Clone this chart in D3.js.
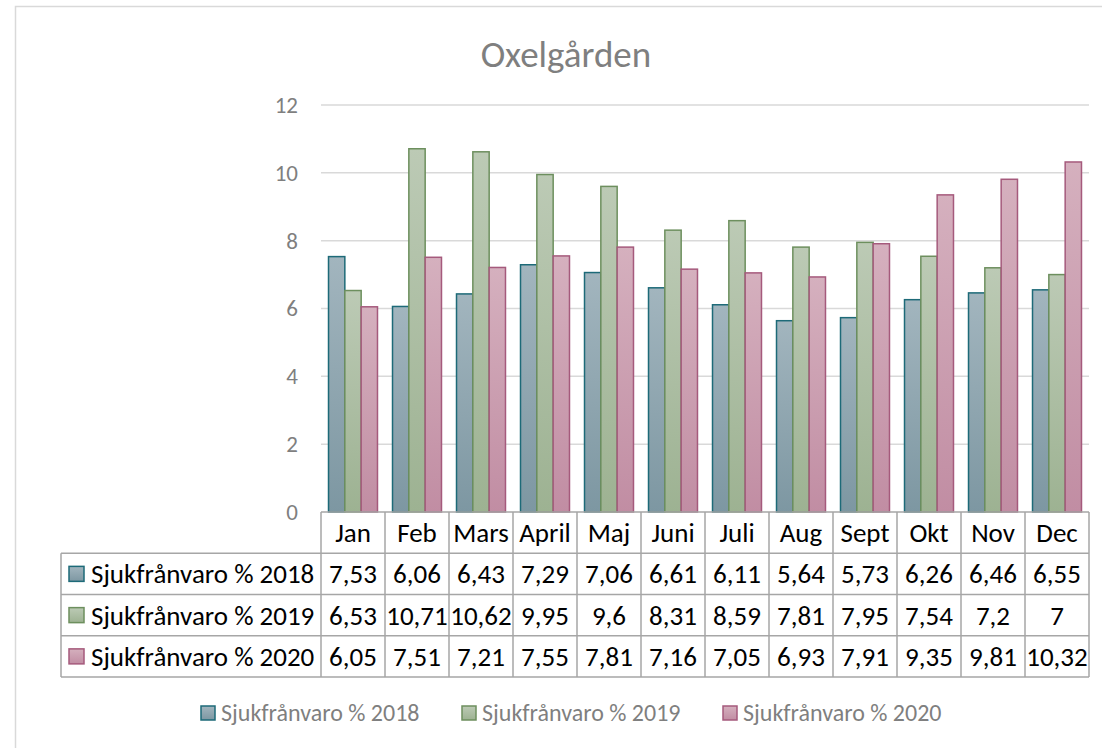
<!DOCTYPE html>
<html>
<head>
<meta charset="utf-8">
<script src="https://cdn.jsdelivr.net/npm/d3@7"></script>
<style>
  body { margin: 0; background: #fff; }
  svg { display: block; }
</style>
</head>
<body>
<svg id="chart" width="1102" height="748"></svg>
<script>
const title = 'Oxelgården'
const months = ['Jan', 'Feb', 'Mars', 'April', 'Maj', 'Juni', 'Juli', 'Aug', 'Sept', 'Okt', 'Nov', 'Dec']
const seriesNames = ['Sjukfrånvaro % 2018', 'Sjukfrånvaro % 2019', 'Sjukfrånvaro % 2020']
const values2018 = [7.53, 6.06, 6.43, 7.29, 7.06, 6.61, 6.11, 5.64, 5.73, 6.26, 6.46, 6.55]
const values2019 = [6.53, 10.71, 10.62, 9.95, 9.6, 8.31, 8.59, 7.81, 7.95, 7.54, 7.2, 7]
const values2020 = [6.05, 7.51, 7.21, 7.55, 7.81, 7.16, 7.05, 6.93, 7.91, 9.35, 9.81, 10.32]
const yTicks = [0, 2, 4, 6, 8, 10, 12]

const seriesValues = [values2018, values2019, values2020]
const colors = [
  { top: '#a2b5be', bottom: '#7d97a2', stroke: '#1d6a78' },
  { top: '#bccab5', bottom: '#9db292', stroke: '#6d8f5e' },
  { top: '#d5b0be', bottom: '#c18da3', stroke: '#a55a7c' }
]

const FONT = "'Carlito', 'Liberation Sans Narrow', 'Noto Sans', sans-serif"
const svg = d3.select('#chart')

// gradients for the bars
const defs = svg.append('defs')
colors.forEach((c, i) => {
  const g = defs.append('linearGradient')
    .attr('id', 'grad' + i)
    .attr('x1', 0).attr('y1', 0).attr('x2', 0).attr('y2', 1)
  g.append('stop').attr('offset', '0%').attr('stop-color', c.top)
  g.append('stop').attr('offset', '100%').attr('stop-color', c.bottom)
})

// chart area border
svg.append('rect')
  .attr('x', 15.5).attr('y', 6.5)
  .attr('width', 1110).attr('height', 760)
  .style('fill', '#fff')
  .style('stroke', '#d9d9d9')
  .style('stroke-width', 1.5)

// title
svg.append('text')
  .attr('x', 566).attr('y', 67)
  .attr('text-anchor', 'middle')
  .style('font-family', FONT)
  .style('font-size', '37px')
  .style('fill', '#7f7f7f')
  .text(title)

const plotLeft = 321, plotRight = 1089, plotTop = 105, plotBottom = 512

const x = d3.scaleBand()
  .domain(months)
  .range([plotLeft, plotRight])

const x1 = d3.scaleBand()
  .domain(seriesNames)
  .range([0, x.bandwidth()])
  .paddingInner(0)
  .paddingOuter(0.46)

const y = d3.scaleLinear()
  .domain([0, 12])
  .range([plotBottom, plotTop])

// gridlines
svg.append('g')
  .selectAll('line')
  .data(yTicks.filter(d => d > 0))
  .enter()
  .append('line')
  .attr('x1', plotLeft).attr('x2', plotRight)
  .attr('y1', d => y(d)).attr('y2', d => y(d))
  .style('stroke', '#d9d9d9')
  .style('stroke-width', 1.5)

// y axis labels
const yAxis = svg.append('g')
  .attr('transform', `translate(${plotLeft}, 0)`)
  .call(d3.axisLeft(y).tickValues(yTicks).tickSize(0).tickPadding(23))
yAxis.select('.domain').remove()
yAxis.selectAll('text')
  .style('font-family', FONT)
  .style('font-size', '23px')
  .style('fill', '#7f7f7f')

// bars
const groups = svg.append('g')
  .selectAll('g')
  .data(months)
  .enter()
  .append('g')
  .attr('transform', d => `translate(${x(d)}, 0)`)

groups.selectAll('rect')
  .data((m, mi) => seriesNames.map((s, si) => ({ s, si, v: seriesValues[si][mi] })))
  .enter()
  .append('rect')
  .attr('x', d => x1(d.s))
  .attr('y', d => y(d.v))
  .attr('width', x1.bandwidth())
  .attr('height', d => y(0) - y(d.v))
  .style('fill', d => `url(#grad${d.si})`)
  .style('stroke', d => colors[d.si].stroke)
  .style('stroke-width', 1.5)

// data table
const tableLeft = 61
const rowH = (677 - plotBottom) / 4
const lineColor = '#a6a6a6'
const table = svg.append('g')

// horizontal lines
table.append('line')
  .attr('x1', plotLeft).attr('x2', plotRight)
  .attr('y1', plotBottom).attr('y2', plotBottom)
  .style('stroke', lineColor).style('stroke-width', 1.5)
d3.range(1, 5).forEach(r => {
  table.append('line')
    .attr('x1', tableLeft).attr('x2', plotRight)
    .attr('y1', plotBottom + r * rowH).attr('y2', plotBottom + r * rowH)
    .style('stroke', lineColor).style('stroke-width', 1.5)
})
// vertical lines
table.append('line')
  .attr('x1', tableLeft).attr('x2', tableLeft)
  .attr('y1', plotBottom + rowH).attr('y2', plotBottom + 4 * rowH)
  .style('stroke', lineColor).style('stroke-width', 1.5)
months.concat(['end']).forEach((m, i) => {
  const xx = i < months.length ? x(m) : plotRight
  table.append('line')
    .attr('x1', xx).attr('x2', xx)
    .attr('y1', plotBottom).attr('y2', plotBottom + 4 * rowH)
    .style('stroke', lineColor).style('stroke-width', 1.5)
})

// month header
table.selectAll('text.month')
  .data(months)
  .enter()
  .append('text')
  .attr('class', 'month')
  .attr('x', d => x(d) + x.bandwidth() / 2)
  .attr('y', plotBottom + rowH / 2)
  .attr('dy', '0.35em')
  .attr('text-anchor', 'middle')
  .style('font-family', FONT)
  .style('font-size', '27px')
  .style('fill', '#000')
  .text(d => d)

// rows
seriesNames.forEach((s, si) => {
  const cy = plotBottom + (si + 1.5) * rowH
  table.append('rect')
    .attr('x', 69).attr('y', cy - 7.5)
    .attr('width', 15).attr('height', 15)
    .style('fill', `url(#grad${si})`)
    .style('stroke', colors[si].stroke)
    .style('stroke-width', 1.5)
  table.append('text')
    .attr('x', 91).attr('y', cy)
    .attr('dy', '0.35em')
    .style('font-family', FONT)
    .style('font-size', '27px')
    .style('fill', '#000')
    .text(s)
  table.selectAll('text.v' + si)
    .data(seriesValues[si])
    .enter()
    .append('text')
    .attr('class', 'v' + si)
    .attr('x', (d, i) => x(months[i]) + x.bandwidth() / 2)
    .attr('y', cy)
    .attr('dy', '0.35em')
    .attr('text-anchor', 'middle')
    .style('font-family', FONT)
    .style('font-size', '27px')
    .style('fill', '#000')
    .text(d => String(d).replace('.', ','))
})

// legend
const legend = svg.append('g')
  .selectAll('g')
  .data(seriesNames)
  .enter()
  .append('g')
  .attr('transform', (d, i) => `translate(${201 + i * 261}, 713)`)

legend.append('rect')
  .attr('x', 0).attr('y', -7)
  .attr('width', 14).attr('height', 14)
  .style('fill', (d, i) => `url(#grad${i})`)
  .style('stroke', (d, i) => colors[i].stroke)
  .style('stroke-width', 1.5)

legend.append('text')
  .attr('x', 20).attr('y', 0)
  .attr('dy', '0.35em')
  .style('font-family', FONT)
  .style('font-size', '24px')
  .style('fill', '#7f7f7f')
  .text(d => d)
</script>
</body>
</html>
